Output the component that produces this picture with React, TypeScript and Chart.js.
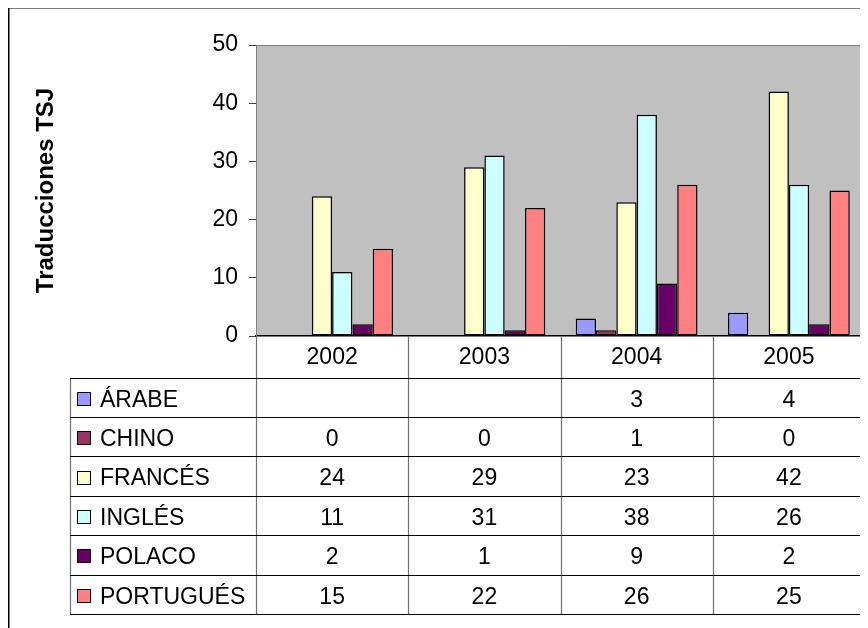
import React, { useEffect, useRef } from "react";
import { Chart, registerables } from "chart.js";

Chart.register(...registerables);

const years = ["2002", "2003", "2004", "2005"];
const seriesNames = ["ÁRABE", "CHINO", "FRANCÉS", "INGLÉS", "POLACO", "PORTUGUÉS"];
const arabe = [null, null, 3, 4];
const chino = [0, 0, 1, 0];
const frances = [24, 29, 23, 42];
const ingles = [11, 31, 38, 26];
const polaco = [2, 1, 9, 2];
const portugues = [15, 22, 26, 25];
const seriesColors = ["#9999FF", "#993366", "#FFFFCC", "#CCFFFF", "#660066", "#FF8080"];
const yMin = 0;
const yMax = 50;
const yStep = 10;
const yTitle = "Traducciones TSJ";

const seriesData = [arabe, chino, frances, ingles, polaco, portugues];
const FONT = "'Liberation Sans', Arial, sans-serif";

const W = 860;
const H = 621;

const tablePlugin = {
  id: "dataTable",
  beforeDraw(chart: any) {
    const { ctx, chartArea } = chart;
    ctx.save();
    ctx.fillStyle = "#C0C0C0";
    ctx.fillRect(chartArea.left, chartArea.top, chartArea.right - chartArea.left, chartArea.bottom - chartArea.top);
    ctx.strokeStyle = "#000000";
    ctx.lineWidth = 1.5;
    ctx.beginPath();
    ctx.moveTo(0.75, H);
    ctx.lineTo(0.75, 0.75);
    ctx.lineTo(W, 0.75);
    ctx.stroke();
    ctx.restore();
  },
  afterDraw(chart: any) {
    const { ctx, chartArea } = chart;
    const x = chart.scales.x;
    const { left, right, top, bottom } = chartArea;
    const tableLeft = 62;
    const headerBottom = 370.5;
    const rowH = 39.4;
    const nRows = seriesNames.length;
    const tableBottom = headerBottom + rowH * nRows;

    ctx.save();
    ctx.strokeStyle = "#808080";
    ctx.lineWidth = 1;
    ctx.beginPath();
    ctx.moveTo(left + 0.5, bottom);
    ctx.lineTo(left + 0.5, top + 0.5);
    ctx.lineTo(right - 0.5, top + 0.5);
    ctx.lineTo(right - 0.5, bottom);
    ctx.stroke();

    ctx.strokeStyle = "#707070";
    ctx.lineWidth = 1.2;
    const bounds: number[] = [left];
    for (let i = 0; i < years.length - 1; i++) {
      bounds.push((x.getPixelForValue(i) + x.getPixelForValue(i + 1)) / 2);
    }
    bounds.push(right);
    ctx.beginPath();
    bounds.forEach((bx, i) => {
      const px = i === bounds.length - 1 ? Math.round(bx) - 0.5 : Math.round(bx) + 0.5;
      ctx.moveTo(px, bottom);
      ctx.lineTo(px, tableBottom);
    });
    ctx.moveTo(tableLeft + 0.5, headerBottom);
    ctx.lineTo(tableLeft + 0.5, tableBottom);
    ctx.stroke();

    ctx.strokeStyle = "#000000";
    ctx.lineWidth = 1.2;
    ctx.beginPath();
    for (let r = 0; r <= nRows; r++) {
      const y = Math.round(headerBottom + r * rowH) + 0.5;
      ctx.moveTo(tableLeft, y);
      ctx.lineTo(right, y);
    }
    ctx.stroke();

    ctx.font = `23px ${FONT}`;
    ctx.textBaseline = "middle";
    for (let r = 0; r < nRows; r++) {
      const rowMid = headerBottom + r * rowH + rowH / 2;
      const cy = rowMid + 3;
      const sq = 13;
      const sx = 69.5;
      const sy = Math.round(rowMid - sq / 2 + 1) + 0.5;
      ctx.fillStyle = seriesColors[r];
      ctx.fillRect(sx, sy, sq, sq);
      ctx.strokeStyle = "#000000";
      ctx.lineWidth = 1;
      ctx.strokeRect(sx, sy, sq, sq);
      ctx.fillStyle = "#000000";
      ctx.textAlign = "left";
      ctx.fillText(seriesNames[r], 92, cy);
      ctx.textAlign = "center";
      seriesData[r].forEach((v, i) => {
        if (v === null || v === undefined) return;
        ctx.fillText(String(v), x.getPixelForValue(i), cy);
      });
    }
    ctx.restore();
  },
};

export default function App() {
  const canvasRef = useRef<HTMLCanvasElement | null>(null);

  useEffect(() => {
    const canvas = canvasRef.current;
    if (!canvas) return;
    const chart = new Chart(canvas, {
      type: "bar",
      data: {
        labels: years,
        datasets: seriesNames.map((name, i) => ({
          label: name,
          data: seriesData[i] as any,
          backgroundColor: seriesColors[i],
          borderColor: "#000000",
          borderWidth: (c: any) => (c.raw === 0 ? 0 : 1.5),
          borderSkipped: false,
          barPercentage: 1.0,
          categoryPercentage: 0.8,
        })),
      },
      options: {
        responsive: false,
        animation: false,
        devicePixelRatio: 1,
        layout: { padding: { top: 38, right: 3, bottom: 0, left: 0 } },
        plugins: {
          legend: { display: false },
          tooltip: { enabled: false },
          title: { display: false },
        },
        scales: {
          x: {
            offset: true,
            grid: { display: false, drawTicks: false },
            border: { display: true, color: "#000000", width: 1.5 },
            ticks: {
              color: "#000000",
              font: { family: FONT, size: 23 },
              padding: 8,
              maxRotation: 0,
            },
            afterFit: (s: any) => {
              s.height = 292;
            },
          },
          y: {
            min: yMin,
            max: yMax,
            grid: {
              display: true,
              drawOnChartArea: false,
              drawTicks: true,
              tickLength: 7,
              color: "#404040",
            },
            border: { display: true, color: "#404040", width: 1 },
            ticks: {
              stepSize: yStep,
              color: "#000000",
              font: { family: FONT, size: 23 },
              padding: 11,
            },
            title: {
              display: true,
              text: yTitle,
              color: "#000000",
              font: { family: FONT, size: 24, weight: "bold" },
              padding: { top: 24, bottom: 0 },
            },
            afterFit: (s: any) => {
              s.width = 248;
            },
          },
        },
      },
      plugins: [tablePlugin],
    });
    return () => chart.destroy();
  }, []);

  return (
    <div style={{ position: "relative", width: W, height: H, marginTop: -1, background: "#ffffff" }}>
      <canvas ref={canvasRef} width={W} height={H} style={{ display: "block", width: W, height: H }} />
    </div>
  );
}
